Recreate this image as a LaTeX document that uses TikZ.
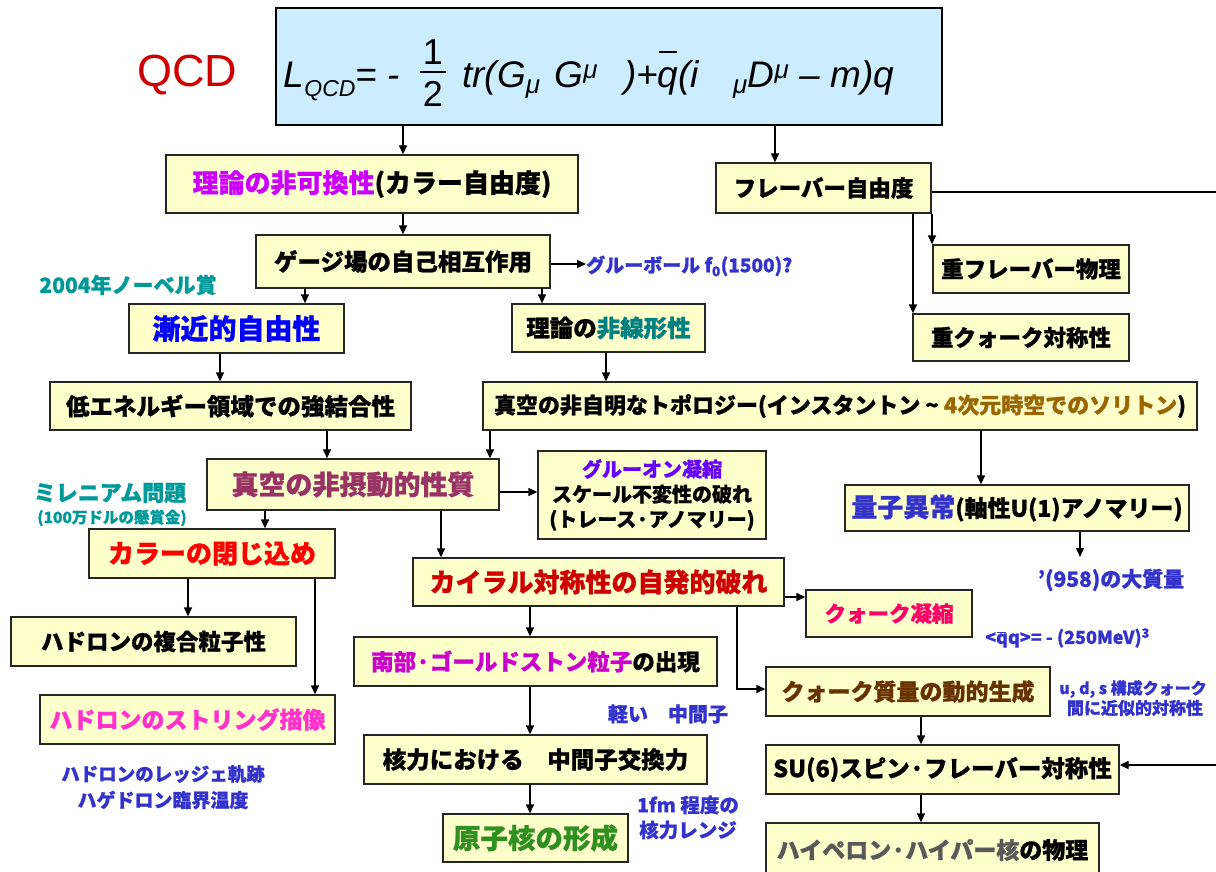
\documentclass[tikz,border=0pt]{standalone}
\usepackage{fontspec}
\setmainfont{Noto Sans CJK JP}[BoldFeatures={FakeBold=1}]
\newfontfamily\arialfont{Liberation Sans}
\usetikzlibrary{arrows.meta}
\definecolor{boxfill}{HTML}{FFFFCC}
\definecolor{formfill}{HTML}{CCECFF}
\definecolor{qcdred}{HTML}{CC0000}
\definecolor{magentaP}{HTML}{CC00FF}
\definecolor{blueB}{HTML}{0000FF}
\definecolor{tealN}{HTML}{008080}
\definecolor{tealA}{HTML}{009999}
\definecolor{plum}{HTML}{993366}
\definecolor{violetG}{HTML}{6600FF}
\definecolor{goldS}{HTML}{996600}
\definecolor{annblue}{HTML}{3333CC}
\definecolor{redC}{HTML}{FF0000}
\definecolor{pinkS}{HTML}{FF33CC}
\definecolor{darkred}{HTML}{CC0000}
\definecolor{qpink}{HTML}{FF0066}
\definecolor{nanbuM}{HTML}{CC00CC}
\definecolor{brownQ}{HTML}{663300}
\definecolor{grayH}{HTML}{595959}
\definecolor{greenG}{HTML}{2F8F1F}
\newcommand\barq[1]{\makebox[0pt][l]{\raisebox{#1}{\hspace{0.04em}\rule{0.48em}{0.06em}}}q}
\newcommand\fs[1]{\fontsize{#1}{#1}\selectfont}
\begin{document}
\begin{tikzpicture}[x=1pt,y=-1pt,
  box/.style={draw=black!85, line width=1.3pt, fill=boxfill, inner sep=0pt, text=black, align=center},
  arr/.style={line width=1.3pt, -{Triangle[length=9pt,width=8pt]}},
  plain/.style={line width=1.3pt},
  ann/.style={inner sep=0pt, text=annblue, align=center}]
\useasboundingbox (0,0) rectangle (1216,872);

% formula
\node[draw=black, line width=1.3pt, fill=formfill, minimum width=666pt, minimum height=117pt, inner sep=0pt] (formula) at (609,66.5) {};
\node[text=qcdred, font=\arialfont\fs{45}, inner sep=0pt] (qcd) at (187,75) {QCD};
\node[font=\arialfont\itshape\fs{37}, anchor=base east, inner sep=0pt] (lagA) at (400,88) {L\raisebox{-0.22em}{\fs{23}QCD}= -};
\node[font=\arialfont\fs{36}, inner sep=0pt] (fnum) at (433,52) {1};
\node[font=\arialfont\fs{36}, inner sep=0pt] (fden) at (433,94) {2};
\draw[line width=2.2pt] ([xshift=-13pt]fnum.center |- 0,72) -- ([xshift=13pt]fnum.center |- 0,72);
\node[font=\arialfont\itshape\fs{37}, anchor=base west, inner sep=0pt] (lagB) at (462,88) {tr(G\textsubscript{μ}\hspace{14pt}G\textsuperscript{μ}\hspace{26pt})+\barq{0.95em}(i\hspace{34pt}\textsubscript{μ}D\textsuperscript{μ} – m)q};

% boxes
\node[box, minimum width=412pt, minimum height=58pt, font=\bfseries\fs{26}] (riron) at (372,184) {\textcolor{magentaP}{理論の非可換性}(カラー自由度)};
\node[box, minimum width=215pt, minimum height=50pt, font=\bfseries\fs{22.5}] (flavor) at (823.5,188) {フレーバー自由度};
\node[box, minimum width=294pt, minimum height=53pt, font=\bfseries\fs{23.5}] (gauge) at (403,261.5) {ゲージ場の自己相互作用};
\node[box, minimum width=215pt, minimum height=49pt, font=\bfseries\fs{28}, text=blueB] (zenkin) at (236.5,328.5) {漸近的自由性};
\node[box, minimum width=193pt, minimum height=48pt, font=\bfseries\fs{23.5}] (hisenkei) at (608.5,328) {理論の\textcolor{tealN}{非線形性}};
\node[box, minimum width=196pt, minimum height=48pt, font=\bfseries\fs{22.5}] (hflavor) at (1031,269) {重フレーバー物理};
\node[box, minimum width=216pt, minimum height=47pt, font=\bfseries\fs{22.5}] (hquark) at (1021,337.5) {重クォーク対称性};
\node[box, minimum width=361pt, minimum height=48pt, font=\bfseries\fs{23.5}] (teiene) at (230.5,406) {低エネルギー領域での強結合性};
\node[box, minimum width=714pt, minimum height=48pt, font=\bfseries\fs{22}] (topo) at (840,406) {真空の非自明なトポロジー(インスタントン \textasciitilde{} \textcolor{goldS}{4次元時空でのソリトン})};
\node[box, minimum width=292pt, minimum height=51pt, font=\bfseries\fs{27}, text=plum] (hiset) at (353,484.5) {真空の非摂動的性質};
\node[box, minimum width=228pt, minimum height=88pt, font=\bfseries\fontsize{20}{25}\selectfont] (gluon) at (652,495) {\textcolor{violetG}{グルーオン凝縮}\\スケール不変性の破れ\\(トレース·アノマリー)};
\node[box, minimum width=344pt, minimum height=46pt, font=\bfseries\fs{23}] (ryoushi) at (1017,508) {{\fs{26}\textcolor{annblue}{量子異常}}(軸性U(1)アノマリー)};
\node[box, minimum width=246pt, minimum height=49pt, font=\bfseries\fs{26}, text=redC] (color) at (212,553.5) {カラーの閉じ込め};
\node[box, minimum width=371pt, minimum height=48pt, font=\bfseries\fs{26}, text=darkred] (chiral) at (598.5,582) {カイラル対称性の自発的破れ};
\node[box, minimum width=166pt, minimum height=47pt, font=\bfseries\fs{21.5}, text=qpink] (qcond) at (889,613.5) {クォーク凝縮};
\node[box, minimum width=285pt, minimum height=49pt, font=\bfseries\fs{22.5}] (fukugou) at (153.5,641.5) {ハドロンの複合粒子性};
\node[box, minimum width=363pt, minimum height=49pt, font=\bfseries\fs{22.5}] (nanbu) at (535.5,661.5) {\textcolor{nanbuM}{南部·ゴールドストン粒子}の出現};
\node[box, minimum width=284pt, minimum height=49pt, font=\bfseries\fs{23}, text=brownQ] (qmass) at (908,691.5) {クォーク質量の動的生成};
\node[box, minimum width=295pt, minimum height=49pt, font=\bfseries\fs{23}, text=pinkS] (string) at (187.5,719.5) {ハドロンのストリング描像};
\node[box, minimum width=343pt, minimum height=49pt, font=\bfseries\fs{23.5}] (kaku) at (535.5,759.5) {核力における　中間子交換力};
\node[box, minimum width=353pt, minimum height=49pt, font=\bfseries\fs{23.5}] (su6) at (942.5,769.5) {SU(6)スピン·フレーバー対称性};
\node[box, minimum width=185pt, minimum height=48pt, font=\bfseries\fs{27.5}, text=greenG] (genshi) at (535.5,838) {原子核の形成};
\node[box, minimum width=333pt, minimum height=54pt, font=\bfseries\fs{23}] (hyper) at (932.5,850) {\textcolor{grayH}{ハイペロン·ハイパー核}の物理};

% annotations
\node[ann, anchor=west, font=\bfseries\fs{19}] (glue) at (586,266) {グルーボール f\textsubscript{0}(1500)?};
\node[ann, text=tealA, font=\bfseries\fs{21}] (nobel) at (128,285) {2004年ノーベル賞};
\node[ann, text=tealA, font=\bfseries\fs{22}] (mill) at (110,493) {ミレニアム問題};
\node[ann, text=tealA, font=\bfseries\fs{15.5}] (mill2) at (112,518) {(100万ドルの懸賞金)};
\node[ann, font=\bfseries\fs{21}] (eta) at (1111,580) {’(958)の大質量};
\node[ann, anchor=west, font=\bfseries\fs{18}] (qq) at (985,638) {<\barq{0.62em}q>= - (250MeV)\textsuperscript{3}};
\node[ann, font=\bfseries\fs{16}] (uds) at (1133,689) {u, d, s 構成クォーク};
\node[ann, font=\bfseries\fs{17}] (uds2) at (1135,708) {間に近似的対称性};
\node[ann, font=\bfseries\fs{20}] (karui) at (668,714) {軽い　中間子};
\node[ann, font=\bfseries\fs{19.5}] (fm) at (688,805) {1fm 程度の};
\node[ann, font=\bfseries\fs{19.5}] (fm2) at (688,830) {核力レンジ};
\node[ann, font=\bfseries\fs{18.5}] (regge) at (163,774) {ハドロンのレッジェ軌跡};
\node[ann, font=\bfseries\fs{19}] (regge2) at (163,800) {ハゲドロン臨界温度};

\coordinate (redge1) at (1216,192);
\coordinate (redge2) at (1216,765);
\coordinate (etaend) at (1080,557);

% connectors
\draw[arr] (formula.south -| 403,0) -- (riron.north -| 403,0);
\draw[arr] (formula.south -| 775,0) -- (flavor.north -| 775,0);
\draw[arr] (riron.south -| 403,0) -- (gauge.north -| 403,0);
\draw[arr] (gauge.east |- 0,264) -- (glue.west |- 0,264);
\draw[arr] (gauge.south -| 305,0) -- (zenkin.north -| 305,0);
\draw[arr] (gauge.south -| 542,0) -- (hisenkei.north -| 542,0);
\draw[arr] (flavor.south -| 932,0) -- (hflavor.north -| 932,0);
\draw[arr] (flavor.south -| 913,0) -- (hquark.north -| 913,0);
\draw[plain] (flavor.east |- redge1) -- (redge1);
\draw[arr] (zenkin.south -| 220,0) -- (teiene.north -| 220,0);
\draw[arr] (hisenkei.south -| 606,0) -- (topo.north -| 606,0);
\draw[arr] (teiene.south -| 327,0) -- (hiset.north -| 327,0);
\draw[arr] (topo.south -| 490,0) -- (hiset.north -| 490,0);
\draw[arr] (hiset.east |- 0,492) -- (gluon.west |- 0,492);
\draw[arr] (topo.south -| 981,0) -- (ryoushi.north -| 981,0);
\draw[arr] (ryoushi.south -| etaend) -- (etaend);
\draw[arr] (hiset.south -| 265,0) -- (color.north -| 265,0);
\draw[arr] (hiset.south -| 441,0) -- (chiral.north -| 441,0);
\draw[arr] (color.south -| 188,0) -- (fukugou.north -| 188,0);
\draw[arr] (color.south -| 315,0) -- (string.north -| 315,0);
\draw[arr] (chiral.east |- 0,597) -- (qcond.west |- 0,597);
\draw[arr] (chiral.south -| 530,0) -- (nanbu.north -| 530,0);
\draw[arr] (chiral.south -| 737,0) |- (qmass.west |- 0,689);
\draw[arr] (nanbu.south -| 530,0) -- (kaku.north -| 530,0);
\draw[arr] (kaku.south -| 530,0) -- (genshi.north -| 530,0);
\draw[arr] (qmass.south -| 921,0) -- (su6.north -| 921,0);
\draw[arr] (redge2) -- (su6.east |- redge2);
\draw[arr] (su6.south -| 921,0) -- (hyper.north -| 921,0);
\end{tikzpicture}
\end{document}
